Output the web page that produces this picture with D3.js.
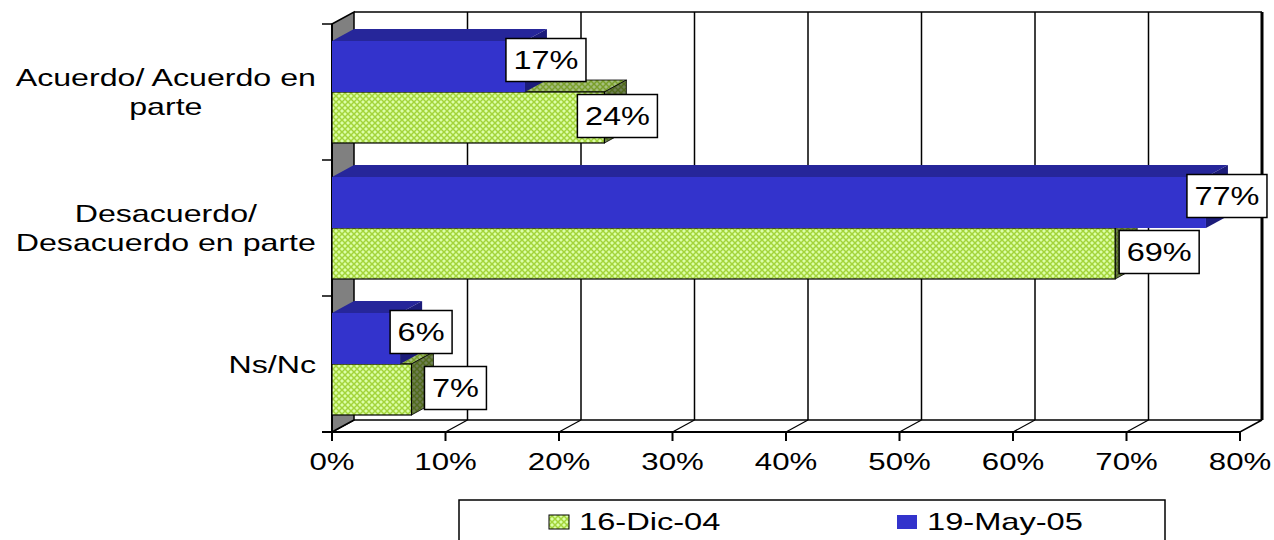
<!DOCTYPE html>
<html>
<head>
<meta charset="utf-8">
<script src="https://cdn.jsdelivr.net/npm/d3@7"></script>
<style>
  html, body { margin: 0; padding: 0; background: #fff; }
  svg { display: block; font-family: "Liberation Sans", Arial, sans-serif; }
</style>
</head>
<body>
<svg id="chart" width="1274" height="540"></svg>
<script>
// datos
const categories = ['Acuerdo/ Acuerdo en parte', 'Desacuerdo/ Desacuerdo en parte', 'Ns/Nc']
const categoryLines = [['Acuerdo/ Acuerdo en', 'parte'], ['Desacuerdo/', 'Desacuerdo en parte'], ['Ns/Nc']]
const seriesNames = ['19-May-05', '16-Dic-04']
const may05 = [0.17, 0.77, 0.06]
const dic04 = [0.24, 0.69, 0.07]
const xTicks = [0, 0.1, 0.2, 0.3, 0.4, 0.5, 0.6, 0.7, 0.8]

const svg = d3.select('#chart')
const SX = 1.3 // el texto original esta estirado horizontalmente
const SXCAT = 1.34
const depth = { dx: 22, dy: -12 }
const front = { left: 332, right: 1240, top: 24, bottom: 432 }

const x = d3.scaleLinear().domain([0, 0.8]).range([front.left, front.right])
const y = d3.scaleBand().domain(categories).range([front.top, front.bottom])
const ySub = d3.scaleBand().domain(seriesNames).range([0, y.bandwidth()])
  .paddingInner(0).paddingOuter(1 / 3)

const colors = { '19-May-05': '#3333cc', '16-Dic-04': 'url(#grn)' }
const topColors = { '19-May-05': '#26269a', '16-Dic-04': 'url(#grnTop)' }
const sideColors = { '19-May-05': '#1c1c7a', '16-Dic-04': 'url(#grnSide)' }

// patron verde
const defs = svg.append('defs')
function greenPattern(id, shade) {
  const p = defs.append('pattern').attr('id', id)
    .attr('patternUnits', 'userSpaceOnUse').attr('width', 6).attr('height', 6)
  p.append('rect').attr('width', 6).attr('height', 6).attr('fill', '#dcffa8')
  p.append('path').attr('d', 'M0,0L6,6M6,0L0,6').attr('stroke', '#a3d43a').attr('stroke-width', 1.5)
  if (shade > 0) {
    p.append('rect').attr('width', 6).attr('height', 6).attr('fill', '#000').attr('opacity', shade)
  }
}
greenPattern('grn', 0)
greenPattern('grnTop', 0.25)
greenPattern('grnSide', 0.5)

const pts = a => a.map(p => p.join(',')).join(' ')

// paredes
const g = svg.append('g')
const bx = front.left + depth.dx
const by = front.top + depth.dy
const bb = front.bottom + depth.dy
const br = front.right + depth.dx

g.append('rect').attr('x', bx).attr('y', by).attr('width', br - bx).attr('height', bb - by)
  .attr('fill', '#fff')
g.selectAll('.grid').data(xTicks.slice(1)).enter().append('line')
  .attr('x1', d => x(d) + depth.dx).attr('x2', d => x(d) + depth.dx)
  .attr('y1', by).attr('y2', bb)
  .attr('stroke', '#000').attr('stroke-width', d => d === 0.8 ? 3 : 1.5)
g.append('line').attr('x1', bx).attr('x2', br).attr('y1', by).attr('y2', by)
  .attr('stroke', '#000').attr('stroke-width', 1.5)

// suelo
g.append('polygon')
  .attr('points', pts([[front.left, front.bottom], [bx, bb], [br, bb], [front.right, front.bottom]]))
  .attr('fill', '#fff').attr('stroke', '#000').attr('stroke-width', 1.5)
g.selectAll('.floorgrid').data(xTicks.slice(1, -1)).enter().append('line')
  .attr('x1', d => x(d)).attr('y1', front.bottom)
  .attr('x2', d => x(d) + depth.dx).attr('y2', bb)
  .attr('stroke', '#000').attr('stroke-width', 1.2)

// pared izquierda
g.append('polygon')
  .attr('points', pts([[front.left, front.top], [bx, by], [bx, bb], [front.left, front.bottom]]))
  .attr('fill', '#808080').attr('stroke', '#000').attr('stroke-width', 1.5)

// ejes
g.append('line').attr('x1', front.left).attr('x2', front.left)
  .attr('y1', front.top).attr('y2', front.bottom).attr('stroke', '#000').attr('stroke-width', 2)
g.append('line').attr('x1', front.left - 10).attr('x2', front.right)
  .attr('y1', front.bottom).attr('y2', front.bottom).attr('stroke', '#000').attr('stroke-width', 2)
g.selectAll('.xtick').data(xTicks).enter().append('line')
  .attr('x1', d => x(d)).attr('x2', d => x(d))
  .attr('y1', front.bottom).attr('y2', front.bottom + 9)
  .attr('stroke', '#000').attr('stroke-width', 2)
const yEdges = categories.map(c => y(c)).concat([front.bottom])
g.selectAll('.ytick').data(yEdges).enter().append('line')
  .attr('x1', front.left - 10).attr('x2', front.left)
  .attr('y1', d => d).attr('y2', d => d)
  .attr('stroke', '#000').attr('stroke-width', 1.5)

g.selectAll('.xlabel').data(xTicks).enter().append('text')
  .attr('transform', d => `translate(${x(d)},470) scale(${SX},1)`)
  .attr('text-anchor', 'middle').attr('font-size', 24)
  .text(d => `${Math.round(d * 100)}%`)

// etiquetas de categoria
categories.forEach((c, i) => {
  const lines = categoryLines[i]
  const cy = y(c) + y.bandwidth() / 2
  const grp = svg.append('g')
  const texts = lines.map((t, j) => grp.append('text')
    .attr('font-size', 24).attr('text-anchor', 'middle')
    .attr('data-y', cy + 8.5 + (j - (lines.length - 1) / 2) * 29.5)
    .text(t))
  const w = d3.max(texts, t => t.node().getComputedTextLength()) * SXCAT
  const mid = 316 - w / 2
  texts.forEach(t => t.attr('transform', `translate(${mid},${t.attr('data-y')}) scale(${SXCAT},1)`))
})

// barras
const rows = []
categories.forEach((c, i) => {
  rows.push({ cat: c, series: '16-Dic-04', value: dic04[i] })
  rows.push({ cat: c, series: '19-May-05', value: may05[i] })
})

const bars = svg.append('g')
rows.forEach(d => {
  const y0 = y(d.cat) + ySub(d.series)
  const y1 = y0 + ySub.bandwidth()
  const x0 = x(0)
  const x1 = x(d.value)
  const edge = d.series === '16-Dic-04' ? '#000' : 'none'
  const b = bars.append('g')
  b.append('polygon')
    .attr('points', pts([[x0, y0], [x0 + depth.dx, y0 + depth.dy], [x1 + depth.dx, y0 + depth.dy], [x1, y0]]))
    .attr('fill', topColors[d.series]).attr('stroke', edge).attr('stroke-width', 0.8)
  b.append('polygon')
    .attr('points', pts([[x1, y0], [x1 + depth.dx, y0 + depth.dy], [x1 + depth.dx, y1 + depth.dy], [x1, y1]]))
    .attr('fill', sideColors[d.series]).attr('stroke', edge).attr('stroke-width', 0.8)
  b.append('rect').attr('x', x0).attr('y', y0).attr('width', x1 - x0).attr('height', y1 - y0)
    .attr('fill', colors[d.series]).attr('stroke', edge).attr('stroke-width', 1.2)
})

// etiquetas de datos
const labelDx = { '19-May-05': 21, '16-Dic-04': 44 }
const labelDy = { '19-May-05': 19, '16-Dic-04': 24 }
const labelNudge = { 'Acuerdo/ Acuerdo en parte|16-Dic-04': -31 }
const labels = svg.append('g')
rows.forEach(d => {
  const y0 = y(d.cat) + ySub(d.series)
  const cx = x(d.value) + labelDx[d.series] + (labelNudge[`${d.cat}|${d.series}`] || 0)
  const cy = y0 + labelDy[d.series]
  const lg = labels.append('g')
  const box = lg.append('rect')
  const t = lg.append('text')
    .attr('transform', `translate(${cx},${cy + 9}) scale(${SX},1)`)
    .attr('text-anchor', 'middle').attr('font-size', 25)
    .text(`${Math.round(d.value * 100)}%`)
  const w = t.node().getComputedTextLength() * SX + 15
  box.attr('x', cx - w / 2).attr('y', cy - 21.5).attr('width', w).attr('height', 43)
    .attr('fill', '#fff').attr('stroke', '#000').attr('stroke-width', 1.5)
})

// leyenda
const legend = svg.append('g')
legend.append('rect').attr('x', 459).attr('y', 500).attr('width', 706).attr('height', 46)
  .attr('fill', '#fff').attr('stroke', '#000').attr('stroke-width', 1.5)
const legendItems = [
  { name: '16-Dic-04', x: 549 },
  { name: '19-May-05', x: 897 },
]
legendItems.forEach(it => {
  legend.append('rect').attr('x', it.x).attr('y', 515).attr('width', 20).attr('height', 14)
    .attr('fill', colors[it.name])
    .attr('stroke', it.name === '16-Dic-04' ? '#000' : 'none').attr('stroke-width', 1)
  legend.append('text')
    .attr('transform', `translate(${it.x + 30},530) scale(1.36,1)`)
    .attr('font-size', 24).text(it.name)
})
</script>
</body>
</html>
